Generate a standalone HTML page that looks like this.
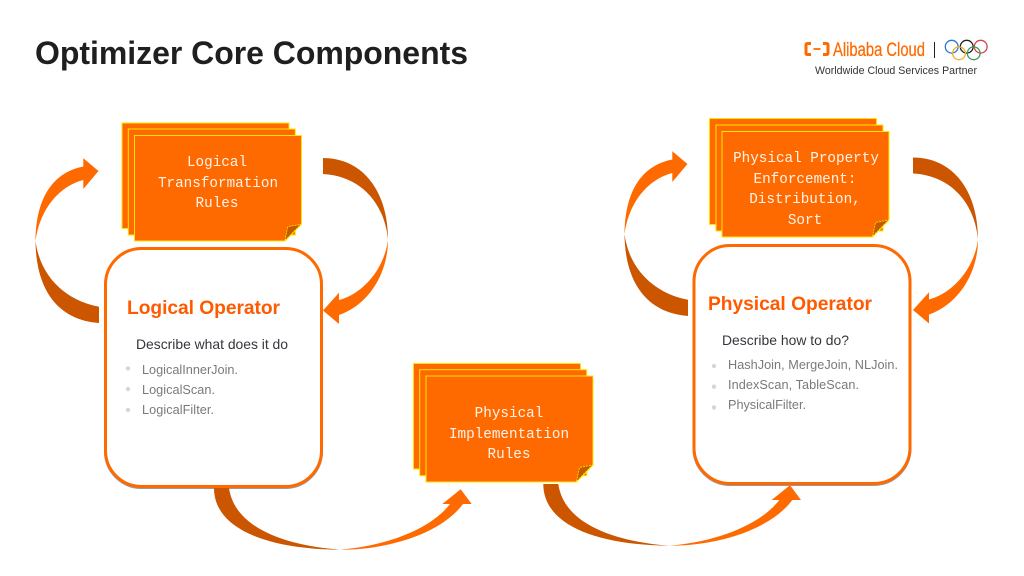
<!DOCTYPE html>
<html lang="en">
<head>
<meta charset="utf-8">
<title>Optimizer Core Components</title>
<style>
html,body{margin:0;padding:0;background:#fff;width:1024px;height:576px;overflow:hidden}
svg{display:block}
text{font-family:"Liberation Sans",sans-serif}
.m{font-family:"Liberation Mono",monospace;font-size:14.3px;fill:#fff;fill-opacity:.92;text-anchor:middle}
.h{font-weight:bold;font-size:19.2px;fill:#ff5a00}
.d{font-size:13.9px;fill:#33363b}
.l{font-size:12.7px;fill:#7a7a7a}
.s{fill:#ff6a00;stroke:#ffe600;stroke-width:1}
.dk{fill:#cc5500}
.or{fill:#ff6a00}
.bx{fill:#fff;stroke:#ff6a00;stroke-width:3}
.sh{fill:none;stroke:#999;stroke-width:3}
.f{fill:#c25a00;stroke:#ffe600;stroke-width:.8;stroke-dasharray:2 1}
</style>
</head>
<body>
<svg width="1024" height="576" viewBox="0 0 1024 576" xmlns="http://www.w3.org/2000/svg">
<defs>
<g id="ccw">
<path class="dk" d="M99,306.700C72,302 41,282 35.500,241C36,290 58,320 99,323Z"/>
<path class="or" d="M35.500,241C36,195 55,172 83.300,166.500V158.300L98.500,171L83.300,189V180C60,186 40,208 35.500,241Z"/>
</g>
<g id="cw">
<path class="dk" d="M323,158C362,158 388,190 388,240C385,205 362,176 323,174Z"/>
<path class="or" d="M388,240C388,272 370,304 339,315V324L323,310.500L339,292.700V300C362,294 384,270 388,240Z"/>
</g>
<g id="bot">
<path class="dk" d="M214,488H229C235,530 290,546 340,549.700C265,549 214,528 214,488Z"/>
<path class="or" d="M340,549.700C385,550 440,535 463,504H471.700L460.700,489.300L442.300,504H450C430,530 385,546 340,549.700Z"/>
</g>
</defs>
<rect width="1024" height="576" fill="#fff"/>

<text x="35" y="64" font-size="32" font-weight="bold" fill="#1f1f1f" textLength="433" lengthAdjust="spacing">Optimizer Core Components</text>

<!-- logo -->
<g fill="none" stroke="#ff6a00" stroke-width="3">
<path d="M811,43.500H807.500Q806,43.500 806,45V53Q806,54.500 807.500,54.500H811"/>
<path d="M823,43.500H826.500Q828,43.500 828,45V53Q828,54.500 826.500,54.500H823"/>
<path d="M813.500,49H820.500" stroke-width="1.800"/>
</g>
<text x="833" y="56" font-size="19" fill="#ff6a00" stroke="#ff6a00" stroke-width=".25" textLength="92" lengthAdjust="spacingAndGlyphs">Alibaba Cloud</text>
<rect x="934" y="42" width="1" height="16" fill="#222"/>
<g fill="none" stroke-width="1.300">
<circle cx="951.700" cy="46.700" r="6.400" stroke="#2a78c8"/>
<circle cx="966.700" cy="46.700" r="6.400" stroke="#222"/>
<circle cx="980.700" cy="46.700" r="6.400" stroke="#d8404f"/>
<circle cx="959" cy="53.300" r="6.400" stroke="#f0b030"/>
<circle cx="973.700" cy="53.300" r="6.400" stroke="#3a9a5a"/>
</g>
<text x="815" y="74" font-size="10.600" fill="#333" textLength="162" lengthAdjust="spacing">Worldwide Cloud Services Partner</text>

<!-- left stack -->
<rect class="s" x="122" y="123" width="167" height="105.500"/>
<rect class="s" x="128.300" y="129" width="167" height="106"/>
<path class="s" d="M134.500,135.500H301.500V224L285,241H134.500Z"/>
<path class="f" d="M285,240.500L287.700,226.700L301,224.300Z"/>
<text class="m" x="217" y="166">Logical</text>
<text class="m" x="218" y="187">Transformation</text>
<text class="m" x="217" y="207">Rules</text>

<!-- right stack -->
<rect class="s" x="709.500" y="118.500" width="167" height="106"/>
<rect class="s" x="716" y="125" width="167" height="106"/>
<path class="s" d="M722,131.500H889V220L872.500,237H722Z"/>
<path class="f" d="M872.500,236.500L875.500,222.500L888.500,220Z"/>
<text class="m" x="806" y="162">Physical Property</text>
<text class="m" x="805" y="183">Enforcement:</text>
<text class="m" x="805" y="203">Distribution,</text>
<text class="m" x="805" y="224">Sort</text>

<!-- middle stack -->
<rect class="s" x="413.500" y="363.500" width="167" height="105.500"/>
<rect class="s" x="419.700" y="369.700" width="167" height="106"/>
<path class="s" d="M426,376H593V465L576.500,482H426Z"/>
<path class="f" d="M576.500,481.500L579.500,467.500L592.500,465Z"/>
<text class="m" x="509" y="417">Physical</text>
<text class="m" x="509" y="438">Implementation</text>
<text class="m" x="509" y="458">Rules</text>

<!-- round boxes -->
<rect class="sh" x="105.500" y="249.500" width="216" height="238" rx="36"/>
<rect class="bx" x="105.500" y="248.500" width="216" height="238" rx="36"/>
<rect class="sh" x="694" y="246.500" width="216" height="238" rx="36"/>
<rect class="bx" x="694" y="245.500" width="216" height="238" rx="36"/>

<!-- left box text -->
<text class="h" x="127" y="314" textLength="153" lengthAdjust="spacing">Logical Operator</text>
<text class="d" x="136" y="349" textLength="152" lengthAdjust="spacing">Describe what does it do</text>
<circle cx="128" cy="368.500" r="2.200" fill="#d6d6d6"/>
<circle cx="128" cy="389" r="2.200" fill="#d6d6d6"/>
<circle cx="128" cy="410" r="2.200" fill="#d6d6d6"/>
<text class="l" x="142" y="374" textLength="96" lengthAdjust="spacing">LogicalInnerJoin.</text>
<text class="l" x="142" y="394" textLength="73" lengthAdjust="spacing">LogicalScan.</text>
<text class="l" x="142" y="414" textLength="72" lengthAdjust="spacing">LogicalFilter.</text>

<!-- right box text -->
<text class="h" x="708" y="310" textLength="164" lengthAdjust="spacing">Physical Operator</text>
<text class="d" x="722" y="345" textLength="127" lengthAdjust="spacing">Describe how to do?</text>
<circle cx="714" cy="366" r="2.200" fill="#d6d6d6"/>
<circle cx="714" cy="386.700" r="2.200" fill="#d6d6d6"/>
<circle cx="714" cy="407.500" r="2.200" fill="#d6d6d6"/>
<text class="l" x="728" y="369" textLength="170" lengthAdjust="spacing">HashJoin, MergeJoin, NLJoin.</text>
<text class="l" x="728" y="389" textLength="131" lengthAdjust="spacing">IndexScan, TableScan.</text>
<text class="l" x="728" y="409" textLength="78" lengthAdjust="spacing">PhysicalFilter.</text>

<!-- arrows -->
<use href="#ccw"/>
<use href="#cw"/>
<use href="#ccw" transform="translate(589,-7)"/>
<use href="#cw" transform="translate(590,-.5)"/>
<use href="#bot"/>
<use href="#bot" transform="translate(329.300,-4)"/>
</svg>
</body>
</html>
